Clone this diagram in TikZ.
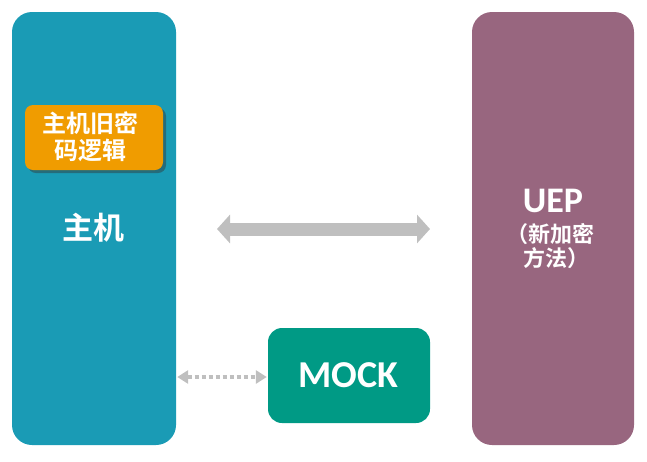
\documentclass[tikz,border=0pt]{standalone}
\usepackage{fontspec}
\setmainfont{Carlito}
\newfontfamily\cjkb{Noto Sans CJK SC Bold}
\usetikzlibrary{arrows.meta,shadows}
\definecolor{hostc}{HTML}{1A9BB5}
\definecolor{uepc}{HTML}{98667F}
\definecolor{mockc}{HTML}{009A85}
\definecolor{oldc}{HTML}{F09C00}
\definecolor{arrc}{HTML}{BFBFBF}
\tikzset{
  bigbox/.style={draw=none, minimum width=164pt, minimum height=433pt, rounded corners=20pt, inner sep=0pt},
  wtext/.style={text=white, font=\cjkb, inner sep=0pt},
}
\begin{document}
\begin{tikzpicture}[x=1pt,y=-1pt]
\useasboundingbox (0,0) rectangle (647,461);
\node[bigbox, fill=hostc] (host) at (94,228.5) {};
\node[bigbox, fill=uepc, minimum width=162pt] (uep) at (553,228.5) {};
\node[fill=mockc, minimum width=162pt, minimum height=95pt, rounded corners=14pt, inner sep=0pt] (mock) at (349,375.5) {};
\node[text=white, inner sep=0pt, font=\bfseries\fontsize{38}{38}\selectfont] (mocktxt) at (348.5,375) {MOCK};
\node[fill=oldc, minimum width=138pt, minimum height=65pt, rounded corners=8pt, inner sep=0pt,
  drop shadow={shadow xshift=3pt, shadow yshift=-3pt, opacity=0.45, fill=black!80}] (old) at (94,137.5) {};
\node[wtext, align=center, font=\cjkb\fontsize{24}{27}\selectfont] (oldtxt) at (90.5,137) {主机旧密\\码逻辑};
\node[wtext, font=\cjkb\fontsize{31}{31}\selectfont] (hosttxt) at (93,228) {主机};
\node[text=white, inner sep=0pt, font=\bfseries\fontsize{36}{36}\selectfont] (ueptxt) at (553,201) {UEP};
\node[wtext, anchor=west, font=\cjkb\fontsize{22}{22}\selectfont] (uepsub1) at (506,234) {（新加密};
\node[wtext, anchor=west, font=\cjkb\fontsize{22}{22}\selectfont] (uepsub2) at (523,258) {方法）};
\coordinate (a1) at (217,229);
\coordinate (a2) at (430,229);
\draw[arrc, line width=13pt, {Triangle[width=28pt,length=13pt]}-{Triangle[width=28pt,length=13pt]}] (a1) -- (a2);
\coordinate (d1) at ([xshift=1pt]host.east |- 0,377);
\coordinate (d2) at ([xshift=-1pt]mock.west |- 0,377);
\draw[arrc, line width=4pt, dash pattern=on 4pt off 3pt, {Triangle[width=13pt,length=11pt]}-{Triangle[width=13pt,length=11pt]}] (d1) -- (d2);
\end{tikzpicture}
\end{document}
